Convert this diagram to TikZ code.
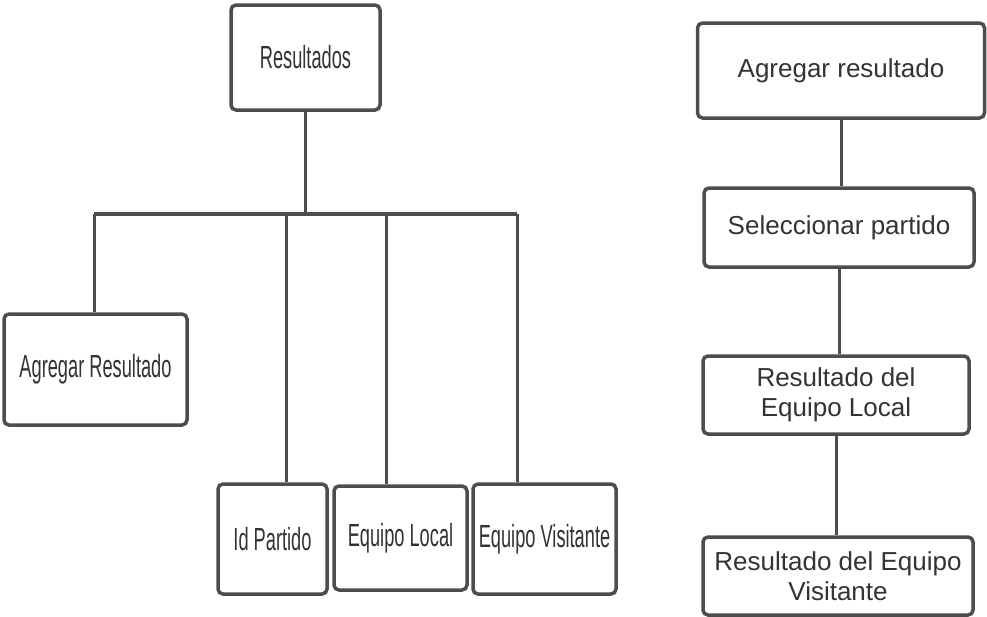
\documentclass[tikz,border=0pt]{standalone}
\usepackage{fontspec}
\setmainfont{Liberation Sans}
\newfontfamily\narrowfont[FakeStretch=0.57]{Liberation Sans}
\usepackage{tikz}
\usetikzlibrary{calc}

\definecolor{linegray}{HTML}{4D4D4D}
\definecolor{textgray}{HTML}{333333}

\begin{document}
\begin{tikzpicture}[x=1pt,y=-1pt,
    box/.style={draw=linegray, line width=3.5pt, rounded corners=5pt, rectangle, fill=white, text=textgray, align=center, inner sep=0pt},
    leftbox/.style={box, font=\narrowfont\fontsize{32}{38}\selectfont},
    rightbox/.style={box, font=\fontsize{26}{30}\selectfont},
    link/.style={draw=linegray, line width=3pt}]
    \useasboundingbox (0,0) rectangle (987,616);

    % left tree
    \node[leftbox, minimum width=149pt, minimum height=105pt] (res) at (305.5,57.5) {Resultados};
    \node[leftbox, minimum width=183pt, minimum height=111pt] (agr) at (95.5,369.5) {Agregar Resultado};
    \node[leftbox, minimum width=109pt, minimum height=110pt] (idp) at (272.5,539) {Id Partido};
    \node[leftbox, minimum width=133pt, minimum height=104pt] (eql) at (400.5,538) {Equipo Local};
    \node[leftbox, minimum width=143pt, minimum height=110pt] (eqv) at (544.5,539) {Equipo Visitante};

    \coordinate (b1) at (94,214);
    \coordinate (b2) at (286,214);
    \coordinate (b3) at (386,214);
    \coordinate (b4) at (517,214);

    \draw[link] (res.south) -- (res.south |- b1);
    \draw[link, line width=4.5pt] (b1) -- (b4);
    \draw[link] (b1) -- (b1 |- agr.north);
    \draw[link] (b2) -- (b2 |- idp.north);
    \draw[link] (b3) -- (b3 |- eql.north);
    \draw[link] (b4) -- (b4 |- eqv.north);

    % right chain
    \node[rightbox, minimum width=287pt, minimum height=95pt] (agrr) at (841,70.5) {Agregar resultado};
    \node[rightbox, minimum width=270pt, minimum height=79pt] (sel) at (839,227.5) {Seleccionar partido};
    \node[rightbox, minimum width=266pt, minimum height=78pt] (rel) at (836,395) {Resultado del\\Equipo Local};
    \node[rightbox, minimum width=270pt, minimum height=78pt] (rev) at (838,576) {Resultado del Equipo\\Visitante};

    \draw[link] (agrr.south) -- (agrr.south |- sel.north);
    \draw[link] (sel.south) -- (sel.south |- rel.north);
    \draw[link] (rel.south) -- (rel.south |- rev.north);
\end{tikzpicture}
\end{document}
